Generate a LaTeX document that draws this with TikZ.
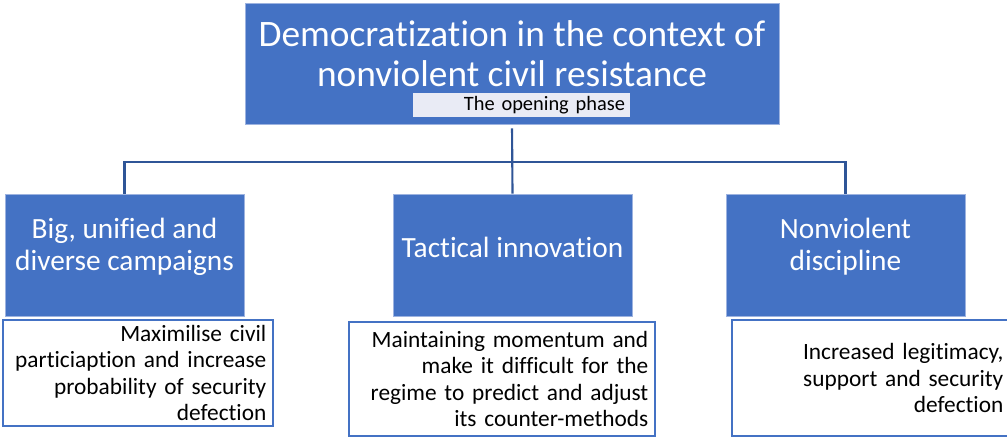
\documentclass[tikz,border=0pt]{standalone}
\usepackage{fontspec}
\setmainfont{Carlito}[Ligatures=NoCommon]

\definecolor{boxblue}{HTML}{4472C4}
\definecolor{linkblue}{HTML}{2F5597}
\definecolor{phasefill}{HTML}{E9EBF5}
\definecolor{edgeblue}{HTML}{9DB3E0}

\begin{document}
\begin{tikzpicture}[x=0.75pt, y=-0.75pt,
    topbox/.style={rectangle, fill=boxblue, draw=edgeblue, line width=0.5pt, inner sep=0pt},
    childbox/.style={rectangle, fill=boxblue, draw=edgeblue, line width=0.5pt, inner sep=0pt, minimum width=179.25pt, minimum height=91.5pt},
    childtext/.style={text=white, align=center, font=\fontsize{22}{24}\selectfont},
    notebox/.style={rectangle, draw=boxblue, line width=1.5pt, fill=white, align=right, inner xsep=5pt, inner ysep=0pt, font=\fontsize{17.5}{19.9}\selectfont},
    link/.style={draw=linkblue, line width=1.6pt}
]
    \useasboundingbox (0,0) rectangle (1007,437);
    \clip (0,0) rectangle (1007,437);

    % Title box
    \node[topbox, minimum width=400.5pt, minimum height=90.75pt] (root) at (512,63.5) {};
    \node[text=white, align=center, inner sep=0pt, font=\fontsize{28}{30}\selectfont] (title) at (512,54) {Democratization in the context of\\nonviolent civil resistance};
    \node[fill=phasefill, text width=155.25pt, align=right, inner xsep=3.75pt, inner ysep=0pt, minimum height=18pt, font=\fontsize{15.3}{18}\selectfont] (phase) at (521.5,105) {The opening phase};

    % Three strategies
    \node[childbox] (big) at (124.5,255) {};
    \node[childtext, yshift=6pt] (bigtext) at (big) {Big, unified and\\diverse campaigns};
    \node[childbox] (tactic) at (512.5,255) {};
    \node[childtext, yshift=6pt] (tactictext) at (tactic) {Tactical innovation};
    \node[childbox] (disc) at (845.5,255) {};
    \node[childtext, yshift=6pt] (disctext) at (disc) {Nonviolent\\discipline};

    % Connectors
    \coordinate (hub) at (512.5,162);
    \draw[link, shorten <=3pt] (root.south) -- (tactic.north);
    \draw[link] (big.north) |- (hub) -| (disc.north);

    % Effects of each strategy
    \node[notebox, text width=192.5pt, minimum height=79.5pt] (bignote) at (138,373) {Maximilise civil\\particiaption and increase\\probability of security\\defection};
    \node[notebox, text width=219.5pt, minimum height=85.5pt] (tacticnote) at (502,379) {Maintaining momentum and\\make it difficult for the\\regime to predict and adjust\\its counter-methods};
    \node[notebox, text width=198.5pt, minimum height=87pt] (discnote) at (871,378) {Increased legitimacy,\\support and security\\defection};

\end{tikzpicture}
\end{document}
